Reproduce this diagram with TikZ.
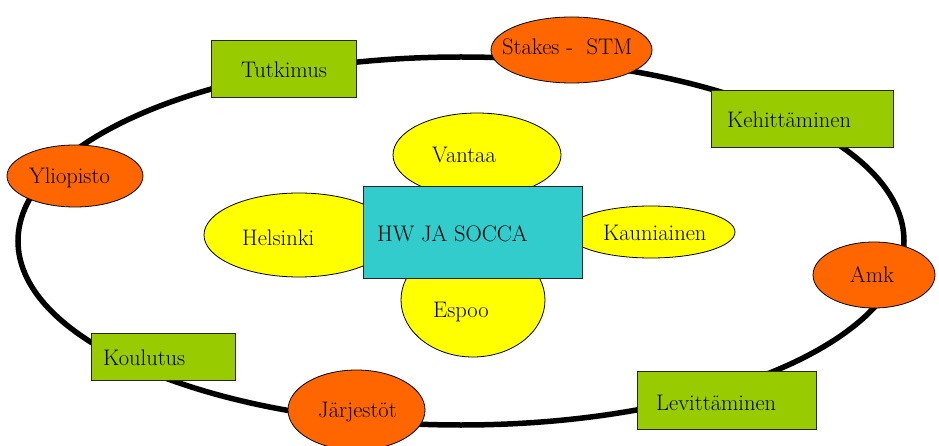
\documentclass[tikz,border=0pt]{standalone}
\usepackage{fontspec}
\usetikzlibrary{shapes.geometric}
\definecolor{ora}{HTML}{FF6600}
\definecolor{grn}{HTML}{99CC00}
\definecolor{yel}{HTML}{FFFF00}
\definecolor{tea}{HTML}{33CCCC}
\tikzset{
  ell/.style={ellipse,draw=black,line width=0.8pt,inner sep=0pt},
  oell/.style={ell,fill=ora},
  yell/.style={ell,fill=yel},
  gbox/.style={rectangle,draw=black!85,line width=0.9pt,fill=grn,inner sep=0pt},
  txt/.style={inner sep=0pt,font=\fontsize{22.5}{25}\selectfont},
  ltxt/.style={txt,anchor=west},
}
\begin{document}
\begin{tikzpicture}[x=1pt,y=-1pt]
\useasboundingbox (0,0) rectangle (939,446);
% ring
\draw[line width=5.5pt] (461,241) ellipse [x radius=443pt, y radius=184pt];
% outer nodes
\node[gbox,minimum width=145pt,minimum height=57pt] (tut) at (283.5,68.5) {};
\node[oell,minimum width=161pt,minimum height=66pt] (sta) at (571.5,50) {};
\node[gbox,minimum width=182pt,minimum height=57pt] (keh) at (802,118.5) {};
\node[oell,minimum width=136pt,minimum height=62pt] (yli) at (75,176) {};
\node[oell,minimum width=122pt,minimum height=66pt] (amk) at (874,275) {};
\node[gbox,minimum width=144pt,minimum height=47pt] (kou) at (163,357) {};
\node[oell,minimum width=137pt,minimum height=80pt] (jar) at (356.5,410) {};
\node[gbox,minimum width=179pt,minimum height=58pt] (lev) at (726.5,400) {};
% inner ellipses
\node[yell,minimum width=168pt,minimum height=84pt] (van) at (477,155) {};
\node[yell,minimum width=190pt,minimum height=84pt] (hel) at (299,235) {};
\node[yell,minimum width=168pt,minimum height=52pt] (kau) at (651,232) {};
\node[yell,minimum width=144pt,minimum height=114pt] (esp) at (473,300) {};
% center box
\node[rectangle,draw=black!85,line width=0.9pt,fill=tea,inner sep=0pt,minimum width=219pt,minimum height=92pt] (hw) at (472.5,232) {};
% texts
\node[ltxt] (tTut) at (241,70) {Tutkimus};
\node[ltxt] (tSta) at (502,47) {Stakes -\ \ STM};
\node[ltxt] (tKeh) at (727,120) {Kehittäminen};
\node[ltxt] (tYli) at (29,178) {Yliopisto};
\node[ltxt] (tAmk) at (850,275) {Amk};
\node[ltxt] (tKou) at (103,358) {Koulutus};
\node[ltxt] (tJar) at (318,412) {Järjestöt};
\node[ltxt] (tLev) at (656,403) {Levittäminen};
\node[ltxt] (tVan) at (432,155) {Vantaa};
\node[ltxt] (tHel) at (242,238) {Helsinki};
\node[ltxt] (tKau) at (603,233) {Kauniainen};
\node[ltxt] (tEsp) at (433,312) {Espoo};
\node[ltxt] (tHw) at (377,234) {HW JA SOCCA};
\end{tikzpicture}
\end{document}
